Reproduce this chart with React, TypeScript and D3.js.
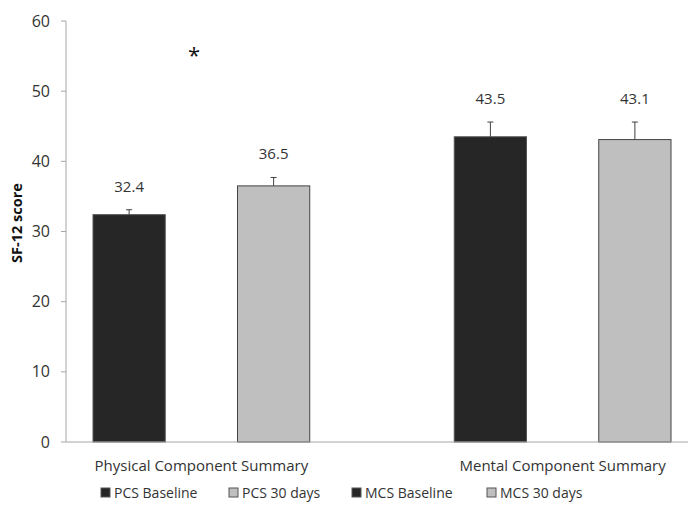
import React from "react";
import * as d3 from "d3";

// SF-12 component summary scores, baseline vs 30 days
const categories = ["Physical Component Summary", "Mental Component Summary"];
const seriesNames = ["PCS Baseline", "PCS 30 days", "MCS Baseline", "MCS 30 days"];
const seriesCategory = [0, 0, 1, 1];
const seriesPhase = ["Baseline", "30 days", "Baseline", "30 days"];
const values = [32.4, 36.5, 43.5, 43.1];
const errors = [0.7, 1.2, 2.1, 2.5];
const valueLabels = ["32.4", "36.5", "43.5", "43.1"];
const yTicks = [0, 10, 20, 30, 40, 50, 60];
const phases = ["Baseline", "30 days"];

const W = 691;
const H = 510;
const FONT = "'Open Sans', 'DejaVu Sans', sans-serif";
const TEXT = "#333333";
const AXIS = "#a6a6a6";
const DARK = "#262626";
const LIGHT = "#bfbfbf";

export default function App() {
  const plotLeft = 66;
  const plotRight = 688;
  const plotTop = 21;
  const plotBottom = 442;

  const y = d3.scaleLinear().domain([0, 60]).range([plotBottom, plotTop]);

  const xGroup = d3
    .scaleBand<string>()
    .domain(categories)
    .range([plotLeft + 27, plotRight - 17])
    .paddingInner(0.4)
    .paddingOuter(0);

  const xInner = d3
    .scaleBand<string>()
    .domain(phases)
    .range([0, xGroup.bandwidth()])
    .paddingInner(0.5)
    .paddingOuter(0);

  const color = d3.scaleOrdinal<string, string>().domain(phases).range([DARK, LIGHT]);

  const bars = values.map((v, i) => {
    const cat = categories[seriesCategory[i]];
    const x0 = (xGroup(cat) ?? 0) + (xInner(seriesPhase[i]) ?? 0);
    return {
      name: seriesNames[i],
      phase: seriesPhase[i],
      x: x0,
      w: xInner.bandwidth(),
      v,
      err: errors[i],
      label: valueLabels[i],
    };
  });

  const legendX = [101, 229, 352, 487];
  const legendY = 493;

  return (
    <svg width={W} height={H} style={{ position: "absolute", left: 0, top: 0, background: "#fff" }}>
      <rect x={0} y={0} width={W} height={H} fill="#fff" />

      {/* y axis */}
      <line x1={plotLeft} x2={plotLeft} y1={plotTop} y2={plotBottom} stroke={AXIS} strokeWidth={1} />
      {yTicks.map((t) => (
        <g key={t}>
          <line x1={plotLeft - 5} x2={plotLeft} y1={y(t)} y2={y(t)} stroke={AXIS} strokeWidth={1} />
          <text
            x={plotLeft - 16}
            y={y(t)}
            dy="0.35em"
            textAnchor="end"
            fontFamily={FONT}
            fontSize={16}
            fill={TEXT}
          >
            {t}
          </text>
        </g>
      ))}
      <text
        transform={`translate(17, 223) rotate(-90)`}
        textAnchor="middle"
        dy="0.35em"
        fontFamily={FONT}
        fontSize={14.5}
        fontWeight="bold"
        fill="#111"
      >
        SF-12 score
      </text>

      {/* bars */}
      {bars.map((b) => (
        <rect
          key={b.name}
          x={b.x}
          y={y(b.v)}
          width={b.w}
          height={y(0) - y(b.v)}
          fill={color(b.phase)}
          stroke={b.phase === "Baseline" ? "#555" : "#444"}
          strokeWidth={1}
        />
      ))}

      {/* error bars */}
      {bars.map((b) => {
        const cx = b.x + b.w / 2;
        return (
          <g key={b.name + "-err"} stroke="#404040" strokeWidth={1}>
            <line x1={cx} x2={cx} y1={y(b.v)} y2={y(b.v + b.err)} />
            <line x1={cx - 3} x2={cx + 3} y1={y(b.v + b.err)} y2={y(b.v + b.err)} />
          </g>
        );
      })}

      {/* value labels */}
      {bars.map((b) => (
        <text
          key={b.name + "-lbl"}
          x={b.x + b.w / 2}
          y={y(b.v + b.err) - 18}
          textAnchor="middle"
          fontFamily={FONT}
          fontSize={15}
          fill={TEXT}
        >
          {b.label}
        </text>
      ))}

      {/* significance marker */}
      <text x={194} y={63} textAnchor="middle" fontFamily={FONT} fontSize={22} fill="#111">
        *
      </text>

      {/* x axis */}
      <line x1={plotLeft} x2={plotRight} y1={plotBottom} y2={plotBottom} stroke={AXIS} strokeWidth={1} />
      {categories.map((c) => (
        <text
          key={c}
          x={(xGroup(c) ?? 0) + xGroup.bandwidth() / 2}
          y={471}
          textAnchor="middle"
          fontFamily={FONT}
          fontSize={15}
          fill={TEXT}
        >
          {c}
        </text>
      ))}

      {/* legend */}
      {seriesNames.map((s, i) => (
        <g key={s}>
          <rect
            x={legendX[i]}
            y={legendY - 5}
            width={9}
            height={9}
            fill={color(seriesPhase[i])}
            stroke="#555"
            strokeWidth={1}
          />
          <text
            x={legendX[i] + 13}
            y={legendY}
            dy="0.35em"
            fontFamily={FONT}
            fontSize={14}
            fill={TEXT}
          >
            {s}
          </text>
        </g>
      ))}
    </svg>
  );
}
